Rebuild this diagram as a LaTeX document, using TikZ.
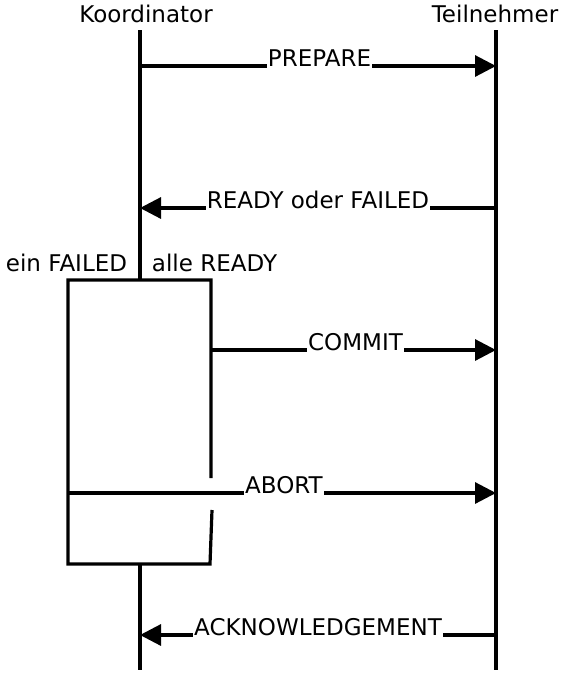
\documentclass[tikz,border=0pt]{standalone}
\usepackage{fontspec}
\setmainfont{DejaVu Sans}
\usetikzlibrary{arrows.meta}
\begin{document}
\begin{tikzpicture}[x=1pt,y=-1pt,line width=3.2pt,
  txt/.style={font=\fontsize{23}{27}\selectfont, inner sep=0pt, anchor=base},
  msg/.style={txt, fill=white, inner xsep=1pt, text depth=3pt},
  arr/.style={-{Triangle[length=21pt,width=21pt]}}]
\useasboundingbox (0,0) rectangle (567,673);
% headers
\node[txt] (hk) at (146,22) {Koordinator};
\node[txt] (ht) at (495,22) {Teilnehmer};
\node[txt] (lf) at (66.5,271) {ein FAILED};
\node[txt] (lr) at (214.5,271) {alle READY};
% coordinates
\coordinate (k0) at (140,30);
\coordinate (kt) at (140,280);
\coordinate (kb) at (140,564);
\coordinate (k1) at (140,670);
\coordinate (t0) at (496,30);
\coordinate (t1) at (496,670);
\coordinate (bl) at (68,280);
\coordinate (br) at (211,280);
\coordinate (brg) at (211,478);
\coordinate (bll) at (68,564);
\coordinate (brl) at (210,564);
\coordinate (brh) at (212,510);
% lifelines
\draw (k0) -- (kt);
\draw (kb) -- (k1);
\draw (t0) -- (t1);
% box
\draw (brg) -- (br) -- (bl) -- (bll) -- (brl) -- (brh);
% messages
\coordinate (pA) at (140,66);  \coordinate (pB) at (496,66);
\coordinate (rA) at (496,208); \coordinate (rB) at (140,208);
\coordinate (cA) at (211,350); \coordinate (cB) at (496,350);
\coordinate (aA) at (68,493);  \coordinate (aB) at (496,493);
\coordinate (ackA) at (496,635); \coordinate (ackB) at (140,635);
\draw[arr] (pA) -- node[msg,xshift=1.5pt] (mp) {PREPARE} (pB);
\draw[arr] (rA) -- node[msg] (mr) {READY oder FAILED} (rB);
\draw[arr] (cA) -- node[msg,xshift=2pt] (mc) {COMMIT} (cB);
\draw[arr] (aA) -- node[msg,xshift=2pt] (ma) {ABORT} (aB);
\draw[arr] (ackA) -- node[msg] (mack) {ACKNOWLEDGEMENT} (ackB);
\end{tikzpicture}
\end{document}
